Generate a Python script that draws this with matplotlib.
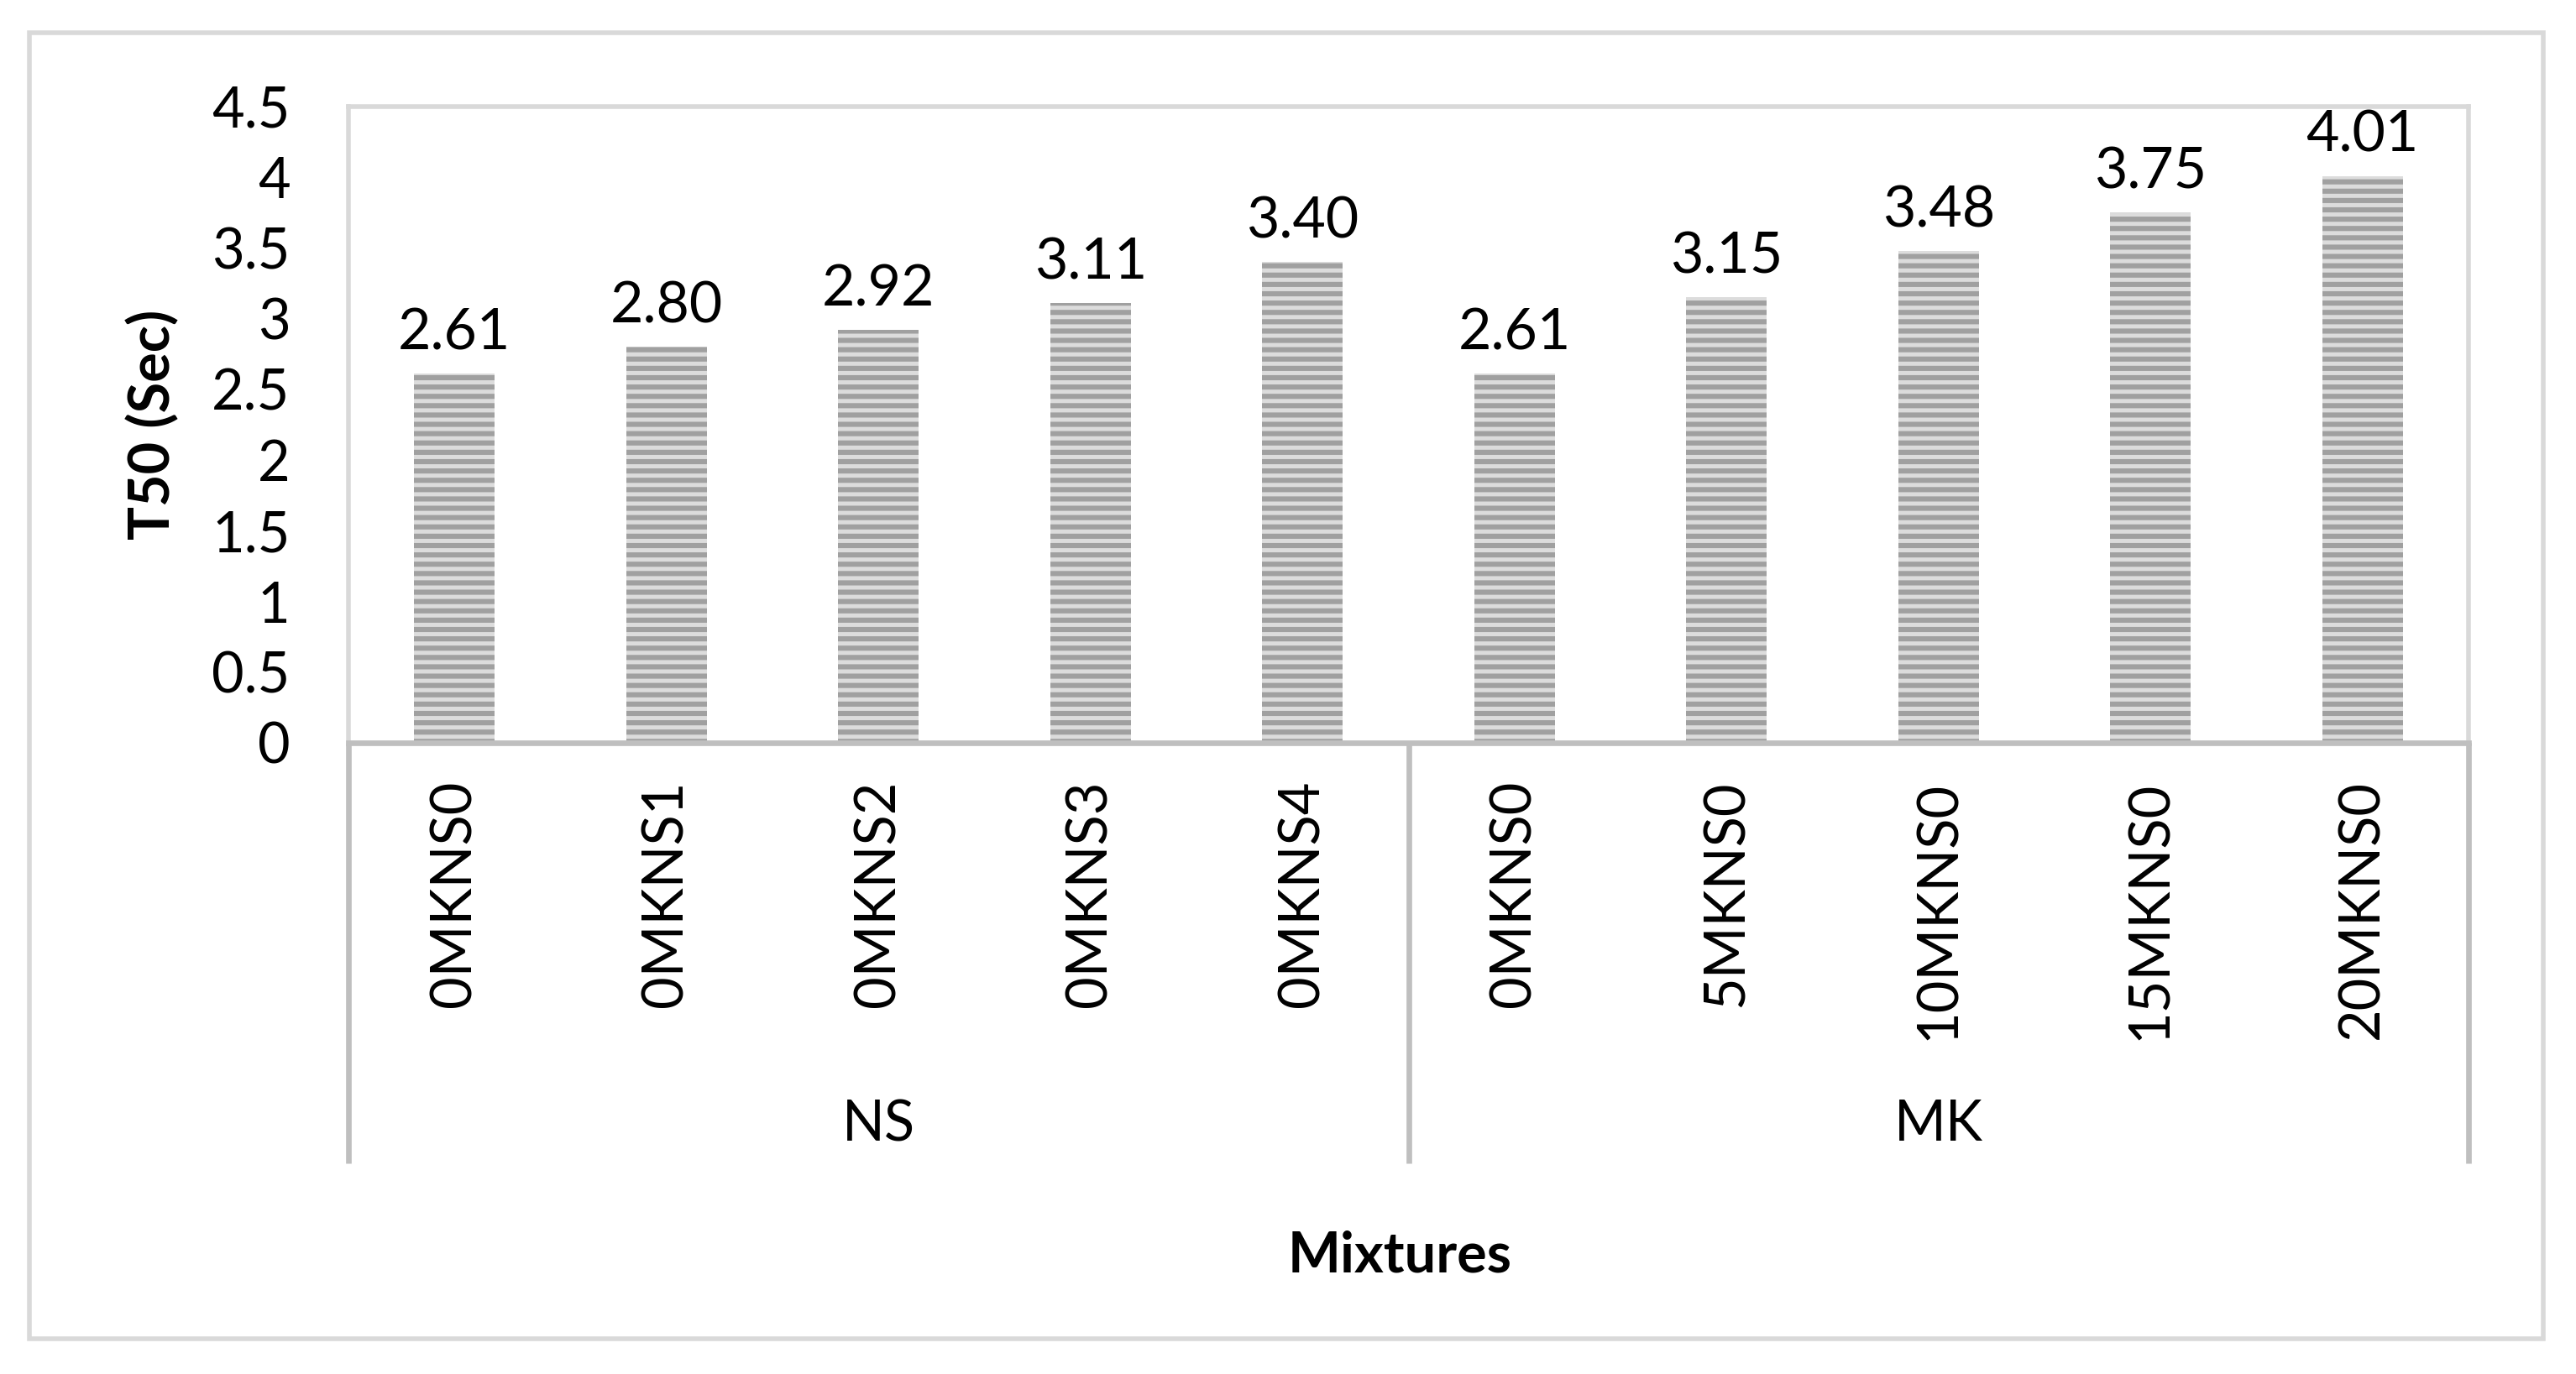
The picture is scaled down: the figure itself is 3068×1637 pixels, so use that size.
import matplotlib
matplotlib.use("Agg")
import matplotlib.pyplot as plt
from matplotlib.patches import Rectangle

# data
groups = ["NS", "MK"]
ns_mixes = ["0MKNS0", "0MKNS1", "0MKNS2", "0MKNS3", "0MKNS4"]
mk_mixes = ["0MKNS0", "5MKNS0", "10MKNS0", "15MKNS0", "20MKNS0"]
ns_t50 = [2.61, 2.80, 2.92, 3.11, 3.40]
mk_t50 = [2.61, 3.15, 3.48, 3.75, 4.01]
yticks = [0, 0.5, 1, 1.5, 2, 2.5, 3, 3.5, 4, 4.5]

plt.rcParams['font.family'] = ['Lato', 'DejaVu Sans']
plt.rcParams['hatch.linewidth'] = 2.2

W, H = 3068, 1637
fig = plt.figure(figsize=(W / 200, H / 200), dpi=200)

# plot area in pixel coords of the reference
px_left, px_right, px_top, px_bottom = 415, 2940, 127, 885
ax = fig.add_axes([px_left / W, 1 - px_bottom / H,
                   (px_right - px_left) / W, (px_bottom - px_top) / H])

labels = ns_mixes + mk_mixes
values = ns_t50 + mk_t50
xpos = [i + 0.5 for i in range(len(values))]

bars = ax.bar(xpos, values, width=0.38, color='#dcdcdc',
              edgecolor='#a0a0a0', linewidth=0, hatch='---')
ax.bar_label(bars, labels=[f"{v:.2f}" for v in values], padding=6,
             fontsize=24.5, color='black')

ax.set_xlim(0, len(values))
ax.set_ylim(0, 4.5)
ax.set_yticks(yticks)
ax.set_yticklabels([f"{t:g}" for t in yticks], fontsize=24)
ax.tick_params(axis='y', length=0, pad=25)

ax.set_xticks(xpos)
ax.set_xticklabels(labels, rotation=90, fontsize=24)
ax.tick_params(axis='x', length=0, pad=16)

for side in ['left', 'top', 'right']:
    ax.spines[side].set_color('#d9d9d9')
    ax.spines[side].set_linewidth(2)
ax.spines['bottom'].set_color('#bfbfbf')
ax.spines['bottom'].set_linewidth(2.4)

# multi-level category separators and group names
span = px_bottom - px_top
sep_bottom = (px_bottom - 1386) / span
trans = ax.get_xaxis_transform()
for xs in [0, len(ns_mixes), len(values)]:
    ax.plot([xs, xs], [0, sep_bottom], transform=trans, color='#bfbfbf',
            lw=2.4, clip_on=False, solid_capstyle='butt')

group_y = (px_bottom - 1340) / span
ax.text(len(ns_mixes) / 2, group_y, groups[0], transform=trans,
        ha='center', va='center', fontsize=24)
ax.text(len(ns_mixes) + len(mk_mixes) / 2, group_y, groups[1], transform=trans,
        ha='center', va='center', fontsize=24)

# axis titles
ax.text((183 - px_left) / (px_right - px_left), 0.5, "T50 (Sec)",
        transform=ax.transAxes, rotation=90, ha='center', va='center',
        fontsize=24, fontweight='bold')
ax.text((1667 - px_left) / (px_right - px_left), (px_bottom - 1497) / span,
        "Mixtures", transform=ax.transAxes, ha='center', va='center',
        fontsize=24, fontweight='bold')

# chart border
fig.add_artist(Rectangle((35 / W, 1 - 1595 / H), (3029 - 35) / W, (1595 - 39) / H,
                         transform=fig.transFigure, fill=False,
                         edgecolor='#d9d9d9', linewidth=2))

fig.savefig("out.png", dpi=200, facecolor='white')
